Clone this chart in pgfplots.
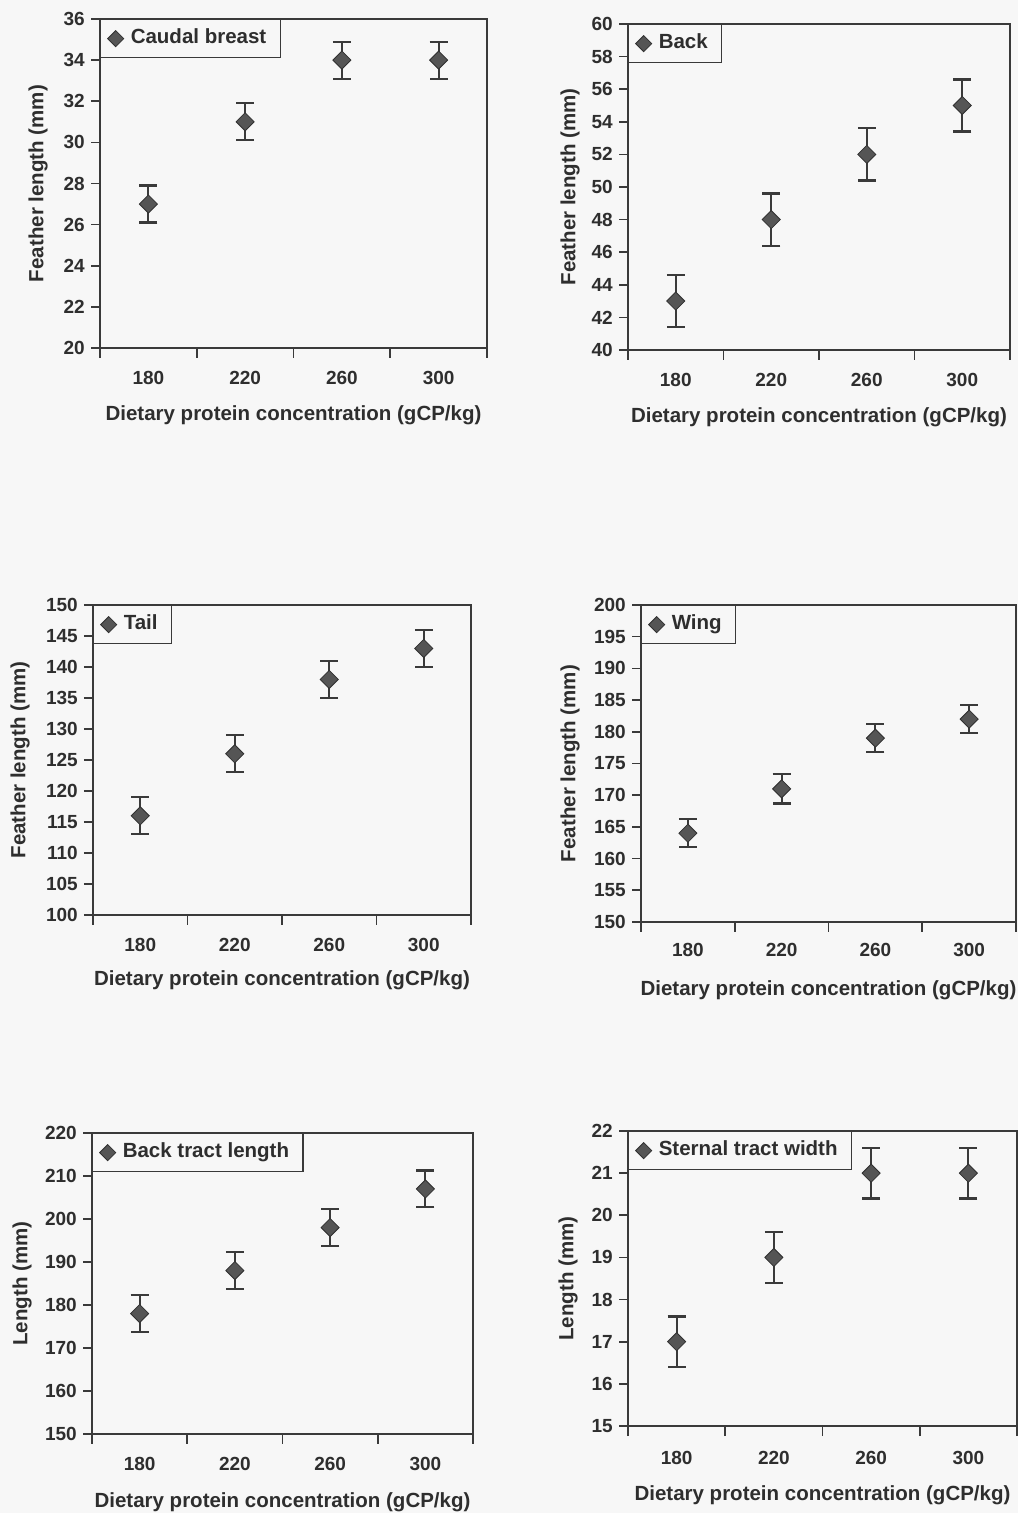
\documentclass[border=0pt]{standalone}
\usepackage{fontspec}
\setmainfont{Liberation Sans}
\usepackage{pgfplots}
\pgfplotsset{compat=1.18}
\definecolor{bg}{HTML}{F7F7F7}
\definecolor{txt}{HTML}{2E2E2E}
\definecolor{axc}{HTML}{3A3A3A}
\definecolor{mk}{HTML}{555555}
\definecolor{mkd}{HTML}{303030}
\newcommand\tfont{\fontsize{19}{22}\selectfont\bfseries}
\newcommand\lfont{\fontsize{20.5}{24}\selectfont\bfseries}
\pgfplotsset{
  pan/.style={
    scale only axis, anchor=south west,
    /pgf/number format/assume math mode=true,
    xmin=-0.5, xmax=3.5,
    xtick={0,1,2,3}, xticklabels={180,220,260,300},
    minor xtick={-0.5,0.5,1.5,2.5,3.5},
    tick align=outside, tick pos=left,
    major tick length=9pt, minor tick length=10pt,
    axis line style={draw=axc, line width=1.6pt},
    every tick/.style={draw=axc, line width=1.6pt},
    every minor tick/.style={draw=axc, line width=1.6pt},
    major x tick style={draw=none},
    tick label style={font=\tfont, text=txt, inner sep=0pt},
    xticklabel style={anchor=center, yshift=-21pt},
    yticklabel style={anchor=east, xshift=-6pt},
    ylabel style={anchor=center, font=\lfont, text=txt},
    xlabel={Dietary protein concentration (gCP/kg)},
    xlabel style={anchor=center, font=\lfont, text=txt},
    legend style={at={(0,1)}, anchor=north west, draw=axc, line width=1.3pt,
      fill=bg, font=\lfont, text=txt, inner xsep=7pt, inner ysep=10pt,
      column sep=0pt,
      nodes={inner xsep=7pt, inner ysep=0pt, text height=14pt, text depth=4pt}},
    legend cell align=left,
    legend image code/.code={\path[draw=none,fill=none] (-7pt,-7pt) rectangle (7pt,7pt);
      \draw[mark=square*, mark size=5.7pt,
        mark options={rotate=45, fill=mk, draw=mkd, line width=0.8pt}]
        plot coordinates {(0pt,0pt)};},
    every error bar/.append style={line width=2.2pt, draw=axc},
  },
  pt/.style={only marks, draw=axc, line width=2.2pt,
    mark=square*, mark size=6.4pt,
    mark options={rotate=45, fill=mk, draw=mkd, line width=0.8pt},
    error bars/.cd, y dir=both, y explicit,
    error bar style={draw=axc, line width=2.2pt},
    error mark options={rotate=90, draw=axc, line width=2.2pt, mark size=9pt}},
}
\begin{document}
\begin{tikzpicture}
\useasboundingbox (0,0) rectangle (1018pt,1513pt);
\fill[bg] (0,0) rectangle (1018pt,1513pt);
% Panel 1
\begin{axis}[pan, at={(100pt,1165pt)}, width=387pt, height=329pt,
  ymin=20, ymax=36, ytick={20,22,...,36},
  ylabel={Feather length (mm)},
  ylabel style={at={([xshift=-62pt]axis description cs:0,0.5)}},
  xlabel style={at={([yshift=-67pt]axis description cs:0.5,0)}}]
\addplot[pt] coordinates {(0,27) +- (0,0.9) (1,31) +- (0,0.9) (2,34) +- (0,0.9) (3,34) +- (0,0.9)};
\legend{Caudal breast}
\end{axis}
% Panel 2
\begin{axis}[pan, at={(628pt,1163pt)}, width=382pt, height=326pt,
  ymin=40, ymax=60, ytick={40,42,...,60},
  ylabel={Feather length (mm)},
  ylabel style={at={([xshift=-58pt]axis description cs:0,0.5)}},
  xlabel style={at={([yshift=-67pt]axis description cs:0.5,0)}}]
\addplot[pt] coordinates {(0,43) +- (0,1.6) (1,48) +- (0,1.6) (2,52) +- (0,1.6) (3,55) +- (0,1.6)};
\legend{Back}
\end{axis}
% Panel 3
\begin{axis}[pan, at={(93pt,598pt)}, width=378pt, height=310pt,
  ymin=100, ymax=150, ytick={100,105,...,150},
  ylabel={Feather length (mm)},
  ylabel style={at={([xshift=-73pt]axis description cs:0,0.5)}},
  xlabel style={at={([yshift=-65pt]axis description cs:0.5,0)}}]
\addplot[pt] coordinates {(0,116) +- (0,3) (1,126) +- (0,3) (2,138) +- (0,3) (3,143) +- (0,3)};
\legend{Tail}
\end{axis}
% Panel 4
\begin{axis}[pan, at={(641pt,591pt)}, width=375pt, height=317pt,
  ymin=150, ymax=200, ytick={150,155,...,200},
  ylabel={Feather length (mm)},
  ylabel style={at={([xshift=-71pt]axis description cs:0,0.5)}},
  xlabel style={at={([yshift=-68pt]axis description cs:0.5,0)}},
  xticklabel style={yshift=2pt}]
\addplot[pt] coordinates {(0,164) +- (0,2.2) (1,171) +- (0,2.3) (2,179) +- (0,2.2) (3,182) +- (0,2.2)};
\legend{Wing}
\end{axis}
% Panel 5
\begin{axis}[pan, at={(92pt,79pt)}, width=381pt, height=301pt,
  ymin=150, ymax=220, ytick={150,160,...,220},
  ylabel={Length (mm)},
  ylabel style={at={([xshift=-70pt]axis description cs:0,0.5)}},
  xlabel style={at={([yshift=-68pt]axis description cs:0.5,0)}}]
\addplot[pt] coordinates {(0,178) +- (0,4.3) (1,188) +- (0,4.3) (2,198) +- (0,4.3) (3,207) +- (0,4.3)};
\legend{Back tract length}
\end{axis}
% Panel 6
\begin{axis}[pan, at={(628pt,87pt)}, width=389pt, height=295pt,
  ymin=15, ymax=22, ytick={15,16,...,22},
  ylabel={Length (mm)},
  ylabel style={at={([xshift=-60pt]axis description cs:0,0.5)}},
  xlabel style={at={([yshift=-69pt]axis description cs:0.5,0)}},
  xticklabel style={yshift=-2pt}]
\addplot[pt] coordinates {(0,17) +- (0,0.6) (1,19) +- (0,0.6) (2,21) +- (0,0.6) (3,21) +- (0,0.6)};
\legend{Sternal tract width}
\end{axis}
\end{tikzpicture}
\end{document}
